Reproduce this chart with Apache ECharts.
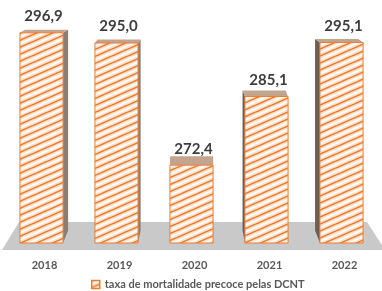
<!DOCTYPE html>
<html>
<head>
<meta charset="utf-8">
<script src="https://cdn.jsdelivr.net/npm/echarts@6/dist/echarts.min.js"></script>
<style>
  html, body { margin: 0; padding: 0; background: #fff; }
  #chart { width: 382px; height: 291px; }
</style>
</head>
<body>
<div id="chart"></div>
<script>
// dados
const years = ['2018', '2019', '2020', '2021', '2022']
const values = [296.9, 295.0, 272.4, 285.1, 295.1]
const valueLabels = ['296,9', '295,0', '272,4', '285,1', '295,1']
const seriesName = 'taxa de mortalidade precoce pelas DCNT'
const baseValue = 258

const FONT = 'Lato, "Liberation Sans", sans-serif'
const ORANGE = '#ed7d31'

// textura listrada (laranja / branco sobre pêssego)
function makeHatch() {
  const c = document.createElement('canvas')
  c.width = 16
  c.height = 7
  const g = c.getContext('2d')
  g.fillStyle = '#fce4d2'
  g.fillRect(0, 0, 16, 7)
  for (const k of [-1, 0, 1]) {
    g.strokeStyle = '#ffffff'
    g.lineWidth = 1.6
    g.beginPath()
    g.moveTo(0, 3.5 + 7 * k)
    g.lineTo(16, -3.5 + 7 * k)
    g.stroke()
    g.strokeStyle = '#f07a2a'
    g.lineWidth = 1.6
    g.beginPath()
    g.moveTo(0, 7 + 7 * k)
    g.lineTo(16, 7 * k)
    g.stroke()
  }
  return c
}
const hatch = { image: makeHatch(), repeat: 'repeat' }

const chart = echarts.init(document.getElementById('chart'))

function renderFloor(params, api) {
  const cs = params.coordSys
  const base = cs.y + cs.height
  const l = cs.x
  const r = cs.x + cs.width
  return {
    type: 'polygon',
    shape: {
      points: [
        [l + 12, base - 21],
        [r - 15, base - 21],
        [r + 3, base + 7],
        [l - 5, base + 7]
      ]
    },
    style: { fill: '#c9c9c9' }
  }
}

function renderBar(params, api) {
  const idx = api.value(0)
  const topPt = api.coord([idx, api.value(1)])
  const botPt = api.coord([idx, baseValue])
  const cs = params.coordSys
  const vx = cs.x + cs.width / 2
  const w = api.size([1, 0])[0] * 0.575
  const cx = topPt[0] - 3
  const L = cx - w / 2
  const R = cx + w / 2
  const T = topPt[1]
  const B = botPt[1]
  // perspectiva simples
  const dx = (vx - cx) * 0.033
  const d = (T + 35) * 0.045
  const dB = (B + 35) * 0.045
  const sx = dx >= 0 ? R : L
  return {
    type: 'group',
    children: [
      {
        type: 'polygon',
        shape: { points: [[sx, T], [sx + dx, T - d], [sx + dx, B - dB], [sx, B]] },
        style: { fill: dx >= 0 ? '#8d7c72' : '#6f5c52' }
      },
      {
        type: 'polygon',
        shape: { points: [[L, T], [R, T], [R + dx, T - d], [L + dx, T - d]] },
        style: { fill: '#c3a48e' }
      },
      {
        type: 'rect',
        shape: { x: L, y: T, width: w, height: B - T },
        style: { fill: hatch, stroke: ORANGE, lineWidth: 1 }
      },
      {
        type: 'text',
        style: {
          text: valueLabels[idx],
          x: cx + 2,
          y: T - 9,
          align: 'center',
          verticalAlign: 'bottom',
          fill: '#3d3d3d',
          font: 'bold 15px ' + FONT
        }
      }
    ]
  }
}

const option = {
  animation: false,
  grid: { left: 7, right: 0, top: 16, bottom: 48 },
  legend: {
    left: 86,
    top: 274,
    itemWidth: 8,
    itemHeight: 8,
    itemGap: 4,
    textStyle: { color: '#595959', fontWeight: 'bold', fontSize: 11, fontFamily: FONT },
    data: [{
      name: seriesName,
      icon: 'rect',
      itemStyle: { color: hatch, borderColor: ORANGE, borderWidth: 1.5 }
    }]
  },
  xAxis: {
    type: 'category',
    data: years,
    axisLine: { show: false },
    axisTick: { show: false },
    axisLabel: {
      margin: 17,
      color: '#595959',
      fontWeight: 'bold',
      fontSize: 11,
      fontFamily: FONT
    }
  },
  yAxis: {
    type: 'value',
    min: baseValue,
    max: 300,
    show: false,
    splitLine: { show: false }
  },
  series: [
    {
      name: 'piso',
      type: 'custom',
      clip: false,
      silent: true,
      z: 1,
      renderItem: renderFloor,
      data: [[2, baseValue]]
    },
    {
      name: seriesName,
      type: 'custom',
      clip: false,
      z: 2,
      itemStyle: { color: ORANGE },
      encode: { x: 0, y: 1 },
      renderItem: renderBar,
      data: values.map((v, i) => [i, v])
    }
  ]
}
chart.setOption(option)
</script>
</body>
</html>
